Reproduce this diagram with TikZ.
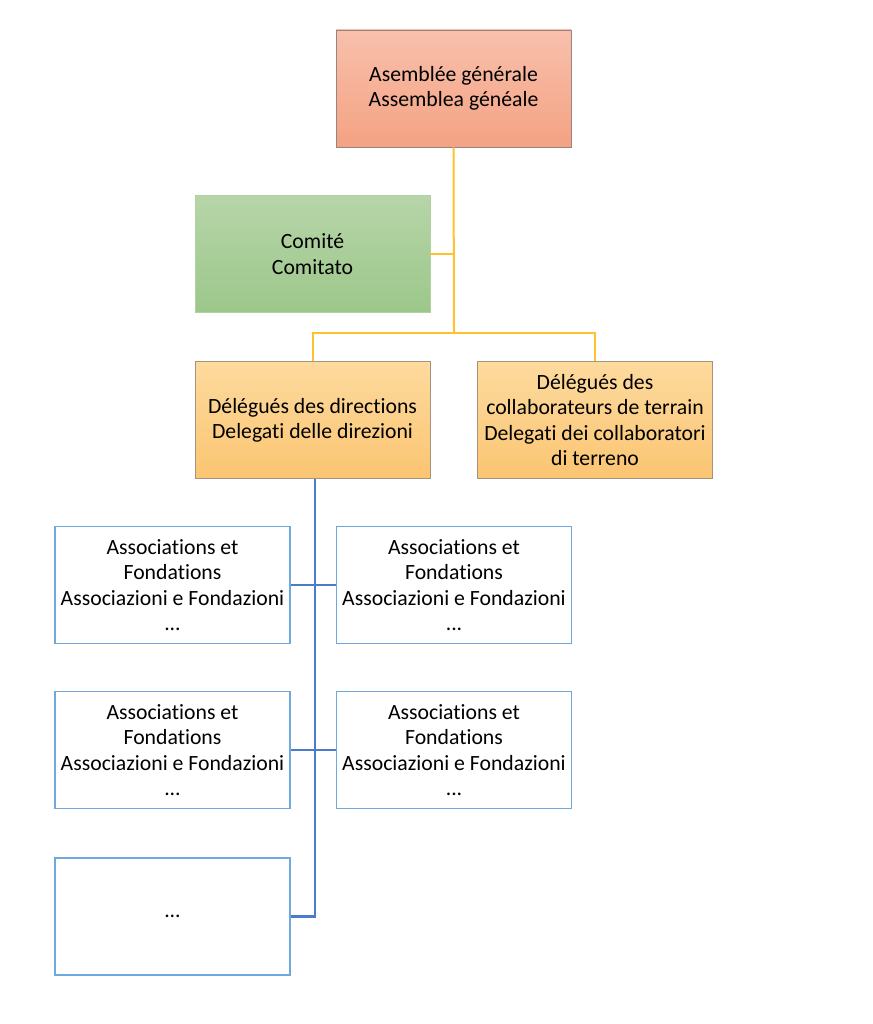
\documentclass[tikz,border=0pt]{standalone}
\usepackage{fontspec}
\setmainfont{Carlito}[Ligatures=NoCommon]
\definecolor{salmonT}{HTML}{F8C0AC}
\definecolor{salmonB}{HTML}{F4A283}
\definecolor{greenT}{HTML}{B7D5A9}
\definecolor{greenB}{HTML}{9CC78A}
\definecolor{orT}{HTML}{FDDA9E}
\definecolor{orB}{HTML}{FBC572}
\definecolor{yline}{HTML}{FFC12E}
\definecolor{bline}{HTML}{4A7CCB}
\definecolor{bborder}{HTML}{6FA8DC}
\begin{document}
\begin{tikzpicture}[x=0.75pt,y=-0.75pt,
  box/.style={rectangle,minimum width=235*0.75pt,minimum height=117*0.75pt,inner sep=0pt,align=center,font=\fontsize{16.3}{19}\selectfont,text=black},
  redbox/.style={box,top color=salmonT,bottom color=salmonB,draw=gray!80!salmonB},
  greenbox/.style={box,top color=greenT,bottom color=greenB,draw=greenB!80!white},
  orbox/.style={box,top color=orT,bottom color=orB,draw=gray!70!orB},
  assoc/.style={box,fill=white,draw=bborder,line width=1.3pt},
  yl/.style={draw=yline,line width=1.5pt},
  bl/.style={draw=bline,line width=1.6pt}]
\useasboundingbox (0,0) rectangle (872,1024);
\node[redbox] (ag) at (453.5,88.5) {Asemblée générale\\Assemblea généale};
\node[greenbox] (cm) at (312.5,254) {Comité\\Comitato};
\node[orbox] (dd) at (312.5,420) {Délégués des directions\\Delegati delle direzioni};
\node[orbox] (dc) at (595,420) {Délégués des\\collaborateurs de terrain\\Delegati dei collaboratori\\di terreno};
\node[assoc] (a1) at (172.5,585) {Associations et\\Fondations\\Associazioni e Fondazioni\\...};
\node[assoc] (a2) at (454,585) {Associations et\\Fondations\\Associazioni e Fondazioni\\...};
\node[assoc] (a3) at (172.5,750) {Associations et\\Fondations\\Associazioni e Fondazioni\\...};
\node[assoc] (a4) at (454,750) {Associations et\\Fondations\\Associazioni e Fondazioni\\...};
\node[assoc] (a5) at (172.5,916.5) {...};
\coordinate (yj) at (454,333);
\draw[yl] (ag.south) -- (yj);
\draw[yl] (cm.east) -- (cm.east -| ag.south);
\draw[yl] (dd.north) |- (yj) -| (dc.north);
\coordinate (bj) at (315,916.5);
\draw[bl] (dd.south -| bj) -- (bj) -- (a5.east);
\draw[bl] (a1.east) -- (a2.west);
\draw[bl] (a3.east) -- (a4.west);
\end{tikzpicture}
\end{document}
